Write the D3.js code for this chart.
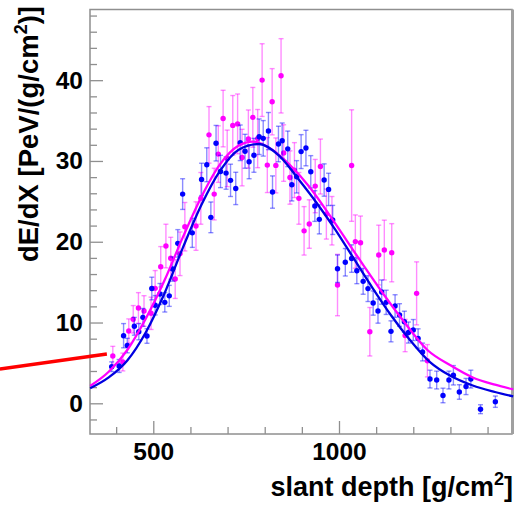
<!DOCTYPE html>
<html><head><meta charset="utf-8">
<script src="https://cdn.jsdelivr.net/npm/d3@7"></script>
<style>
html,body{margin:0;padding:0;background:#fff;}
svg text{font-family:"Liberation Sans",Arial,Helvetica,sans-serif;font-weight:bold;fill:#000;}
</style></head>
<body><svg id="c" width="519" height="505"></svg>
<script>
// ---- data ----
const blueX = [388,408,420,430,449,461,472,483,496,505,518,531,543,552,566,579,605,630,644,655,669,681,696,708,722,734,747,758,771,785,796,810,821,837,847,862,873,886,898,911,924,935,947,960,972,983,996,1017,1034,1048,1065,1078,1092,1105,1115,1127,1140,1151,1163,1176,1187,1200,1213,1225,1245,1263,1280,1296,1308,1324,1342,1355,1381,1421];
const blueY = [4.53,4.62,8.37,7.15,9.53,8.86,10.64,8.33,14.21,12.14,13.53,12.5,13.3,16.62,19.8,25.9,21.1,27.72,29.53,23.02,32.2,28.7,28.5,27.6,26.6,32.25,31.2,29.9,30.7,33.0,32.8,33.7,26.15,32.1,32.5,31.5,27.05,28.04,31.16,31.6,28.66,24.42,22.77,27.64,26.48,22.7,16.66,17.46,17.92,16.41,15.1,14.2,12.41,11.42,13.77,12.5,8.91,12.04,10.93,10.1,8.76,9.07,8.02,6.35,3.0,2.88,0.97,2.88,3.47,1.4,2.08,3.0,-0.73,0.2];
const blueErr = [0.6,0.8,1.5,0.9,1.1,1.0,1.1,0.9,1.4,1.2,1.3,1.2,1.3,1.5,1.7,1.9,1.8,2.0,2.1,1.9,2.2,2.0,2.0,2.0,2.0,2.2,2.1,2.1,2.1,2.2,2.2,2.3,2.0,2.2,2.2,2.2,2.0,2.0,2.1,2.2,2.0,1.9,1.8,2.0,2.0,1.8,1.7,1.7,1.7,1.6,1.6,1.6,1.5,1.5,1.5,1.5,1.3,1.4,1.4,1.3,1.3,1.3,1.2,1.1,1.1,1.1,0.9,1.1,1.2,0.9,1.0,1.1,0.55,0.7];

const magX = [391,418,434,446,460,475,494,505,520,534,547,559,572,585,615,628,650,664,675,688,699,714,727,739,756,768,781,793,807,820,830,844,851,868,880,892,906,920,936,950,966,981,996,1034,1044,1058,1083,1107,1122,1142,1178,1209,1238];
const magY = [5.85,5.11,8.95,10.4,11.8,11.42,11.14,14.23,16.9,19.47,17.95,15.38,18.51,21.86,21.94,25.37,33.23,25.9,30.85,35.25,30.32,34.4,34.59,30.42,32.71,35.4,32.77,40.01,29.49,37.33,29.45,40.54,30.98,27.95,28.87,25.37,21.35,22.19,26.89,29.31,23.43,22.6,14.64,29.43,20.02,19.88,8.86,18.35,18.97,18.64,8.39,13.61,5.27];
const magErr = [1.2,1.1,1.5,1.7,1.9,1.9,2.0,2.2,2.5,2.7,2.6,2.4,2.7,3.0,3.0,3.2,3.5,3.2,3.5,3.5,3.5,3.7,3.7,3.5,3.6,3.7,3.6,4.5,3.4,4.1,3.4,4.6,3.5,3.3,3.4,3.2,3.0,3.0,3.3,3.4,3.1,3.0,3.8,6.9,3.3,3.3,3.0,3.7,3.7,3.6,2.0,3.9,2.0];

const blueFitX = [330,380,430,480,530,580,630,680,730,785,840,890,940,990,1040,1090,1140,1190,1245,1300,1360,1420,1469];
const blueFitY = [1.86,3.2,5.3,8.8,13.6,19.3,24.6,28.8,31.4,32.1,30.6,27.8,24.8,21.5,17.9,14.3,10.9,7.9,5.1,3.4,2.2,1.4,0.85];
const magFitX = [330,380,430,480,530,580,630,680,730,768,820,870,920,970,1020,1070,1120,1170,1238,1300,1360,1420,1469];
const magFitY = [2.14,3.9,6.6,10.5,15.2,20.6,25.6,29.6,31.9,32.4,31.4,29.4,26.8,23.6,20.2,16.8,13.5,10.4,6.6,4.7,3.2,2.3,1.73];

const arrowX = [87, 375];
const arrowY = [4.25, 6.1];

const xMajor = [500, 1000];
const xMinor = [400,600,700,800,900,1100,1200,1300,1400];
const yMajor = [0,10,20,30,40];
const yMinor = [-2,2,4,6,8,12,14,16,18,22,24,26,28,32,34,36,38,42,44,46,48];

const xTitle = "slant depth [g/cm";
const yTitle = "dE/dX [PeV/(g/cm";

// ---- drawing ----
const svg = d3.select("#c");
const L = 90, R = 512, T = 9.5, B = 434;
const x = d3.scaleLinear().domain([329.6, 1465.8]).range([L, R]);
const y = d3.scaleLinear().domain([-3.8, 48.75]).range([B, T]);
const frameCol = "#8f8f8f";

// axes (ticks pointing inward)
const gx = svg.append("g").attr("transform", `translate(0,${B})`);
gx.call(d3.axisBottom(x).tickValues(xMinor).tickSize(-7).tickFormat(""));
const gx2 = svg.append("g").attr("transform", `translate(0,${B})`);
gx2.call(d3.axisBottom(x).tickValues(xMajor).tickSize(-13).tickPadding(9).tickFormat(d3.format("d")));
const gy = svg.append("g").attr("transform", `translate(${L},0)`);
gy.call(d3.axisLeft(y).tickValues(yMinor).tickSize(-7).tickFormat(""));
const gy2 = svg.append("g").attr("transform", `translate(${L},0)`);
gy2.call(d3.axisLeft(y).tickValues(yMajor).tickSize(-13).tickPadding(7).tickFormat(d3.format("d")));
[gx, gx2, gy, gy2].forEach(g => {
  g.select(".domain").remove();
  g.selectAll(".tick line").attr("stroke", frameCol).attr("stroke-width", 1.3);
  g.selectAll(".tick text").style("font-size", "24.5px").attr("fill", "#000");
});

// frame
svg.append("rect").attr("x", L).attr("y", T).attr("width", R - L).attr("height", B - T)
  .attr("fill", "none").attr("stroke", frameCol).attr("stroke-width", 1.5);
svg.append("line").attr("x1", R + 0.5).attr("x2", R + 0.5).attr("y1", T).attr("y2", B)
  .attr("stroke", "#a0a0a0").attr("stroke-width", 3);

function drawSeries(xs, ys, es, col) {
  const g = svg.append("g");
  const data = xs.map((v, i) => ({ x: v, y: ys[i], e: es[i] }));
  const eb = g.append("g").attr("stroke", col).attr("stroke-opacity", 0.45).attr("stroke-width", 1.4);
  data.forEach(d => {
    const px = x(d.x), y1 = y(d.y - d.e), y2 = y(d.y + d.e);
    eb.append("line").attr("x1", px).attr("x2", px).attr("y1", y1).attr("y2", y2);
    eb.append("line").attr("x1", px - 2.5).attr("x2", px + 2.5).attr("y1", y1).attr("y2", y1);
    eb.append("line").attr("x1", px - 2.5).attr("x2", px + 2.5).attr("y1", y2).attr("y2", y2);
  });
  g.selectAll("circle").data(data).join("circle")
    .attr("cx", d => x(d.x)).attr("cy", d => y(d.y)).attr("r", 2.7).attr("fill", col);
}
drawSeries(magX, magY, magErr, "#ff00ff");
drawSeries(blueX, blueY, blueErr, "#0000ff");

const line = d3.line().x(d => x(d[0])).y(d => y(d[1])).curve(d3.curveMonotoneX);
svg.append("path").attr("d", line(magFitX.map((v, i) => [v, magFitY[i]])))
  .attr("fill", "none").attr("stroke", "#ff00ff").attr("stroke-width", 2.3);
svg.append("path").attr("d", line(blueFitX.map((v, i) => [v, blueFitY[i]])))
  .attr("fill", "none").attr("stroke", "#0000e0").attr("stroke-width", 2.3);

// red annotation line
svg.append("line")
  .attr("x1", x(arrowX[0])).attr("y1", y(arrowY[0]))
  .attr("x2", x(arrowX[1])).attr("y2", y(arrowY[1]))
  .attr("stroke", "#ff0000").attr("stroke-width", 3.5);

// titles
const xt = svg.append("text").attr("x", 513).attr("y", 496).attr("text-anchor", "end").style("font-size", "27px");
xt.append("tspan").text(xTitle);
xt.append("tspan").attr("dy", -11).style("font-size", "18px").text("2");
xt.append("tspan").attr("dy", 11).text("]");

const yt = svg.append("text").attr("transform", "translate(38,6) rotate(-90)").attr("text-anchor", "end").style("font-size", "27.5px");
yt.append("tspan").text(yTitle);
yt.append("tspan").attr("dy", -11).style("font-size", "18px").text("2");
yt.append("tspan").attr("dy", 11).text(")]");
</script>
</body></html>
